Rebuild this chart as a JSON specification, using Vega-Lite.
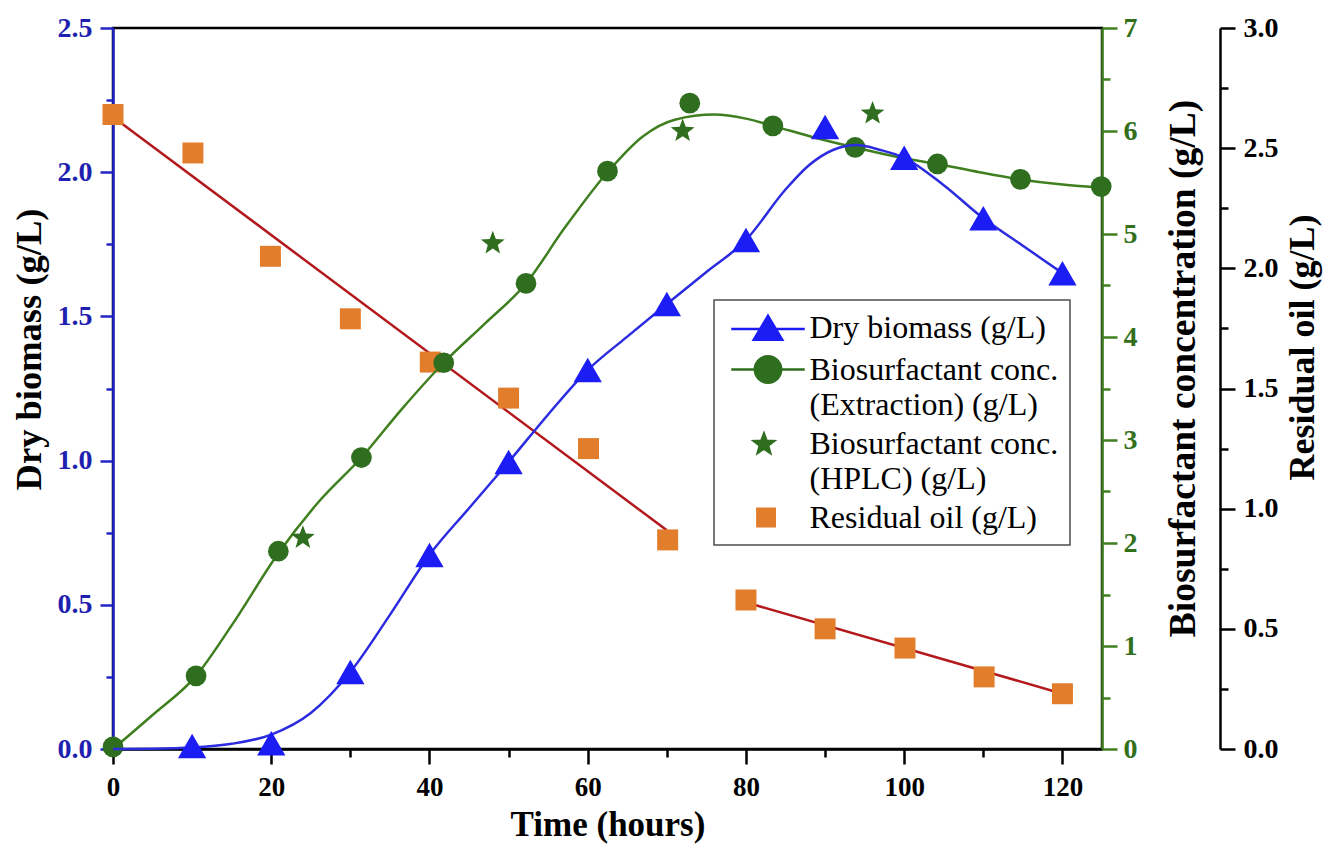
{
  "$schema": "https://vega.github.io/schema/vega-lite/v6.json",
  "width": 989,
  "height": 721,
  "autosize": {"type": "none"},
  "padding": {"left": 113, "top": 28, "right": 226, "bottom": 112},
  "background": "white",
  "config": {"view": {"stroke": "black", "strokeWidth": 2.5}, "font": "Liberation Serif"},
  "datasets": {
    "biomass": [
      {"t": 10, "v": 0.01, "series": "Dry biomass (g/L)"},
      {"t": 20, "v": 0.02, "series": "Dry biomass (g/L)"},
      {"t": 30, "v": 0.267, "series": "Dry biomass (g/L)"},
      {"t": 40, "v": 0.673, "series": "Dry biomass (g/L)"},
      {"t": 50, "v": 0.995, "series": "Dry biomass (g/L)"},
      {"t": 60, "v": 1.314, "series": "Dry biomass (g/L)"},
      {"t": 70, "v": 1.543, "series": "Dry biomass (g/L)"},
      {"t": 80, "v": 1.765, "series": "Dry biomass (g/L)"},
      {"t": 90, "v": 2.157, "series": "Dry biomass (g/L)"},
      {"t": 100, "v": 2.05, "series": "Dry biomass (g/L)"},
      {"t": 110, "v": 1.84, "series": "Dry biomass (g/L)"},
      {"t": 120, "v": 1.65, "series": "Dry biomass (g/L)"}
    ],
    "biomassFit": [
      {"t": 0, "v": 0.0}, {"t": 5, "v": 0.001}, {"t": 10, "v": 0.005}, {"t": 15, "v": 0.018},
      {"t": 20, "v": 0.05}, {"t": 25, "v": 0.125}, {"t": 30, "v": 0.267}, {"t": 35, "v": 0.465},
      {"t": 40, "v": 0.673}, {"t": 45, "v": 0.835}, {"t": 50, "v": 0.995}, {"t": 55, "v": 1.16},
      {"t": 60, "v": 1.314}, {"t": 65, "v": 1.43}, {"t": 70, "v": 1.543}, {"t": 75, "v": 1.654},
      {"t": 80, "v": 1.765}, {"t": 85, "v": 1.94}, {"t": 88, "v": 2.025}, {"t": 91, "v": 2.077},
      {"t": 94, "v": 2.094}, {"t": 97, "v": 2.077}, {"t": 100, "v": 2.05}, {"t": 105, "v": 1.955},
      {"t": 110, "v": 1.84}, {"t": 115, "v": 1.745}, {"t": 120, "v": 1.65}
    ],
    "extraction": [
      {"t": 0, "v": 0.02, "series": "Biosurfactant conc.|(Extraction) (g/L)"},
      {"t": 10.5, "v": 0.71, "series": "Biosurfactant conc.|(Extraction) (g/L)"},
      {"t": 20.9, "v": 1.92, "series": "Biosurfactant conc.|(Extraction) (g/L)"},
      {"t": 31.4, "v": 2.83, "series": "Biosurfactant conc.|(Extraction) (g/L)"},
      {"t": 41.8, "v": 3.75, "series": "Biosurfactant conc.|(Extraction) (g/L)"},
      {"t": 52.2, "v": 4.52, "series": "Biosurfactant conc.|(Extraction) (g/L)"},
      {"t": 62.5, "v": 5.61, "series": "Biosurfactant conc.|(Extraction) (g/L)"},
      {"t": 72.9, "v": 6.27, "series": "Biosurfactant conc.|(Extraction) (g/L)"},
      {"t": 83.4, "v": 6.05, "series": "Biosurfactant conc.|(Extraction) (g/L)"},
      {"t": 93.8, "v": 5.84, "series": "Biosurfactant conc.|(Extraction) (g/L)"},
      {"t": 104.2, "v": 5.68, "series": "Biosurfactant conc.|(Extraction) (g/L)"},
      {"t": 114.7, "v": 5.53, "series": "Biosurfactant conc.|(Extraction) (g/L)"},
      {"t": 124.9, "v": 5.46, "series": "Biosurfactant conc.|(Extraction) (g/L)"}
    ],
    "hplc": [
      {"t": 24, "v": 2.05, "series": "Biosurfactant conc.|(HPLC) (g/L)"},
      {"t": 48, "v": 4.91, "series": "Biosurfactant conc.|(HPLC) (g/L)"},
      {"t": 72, "v": 6.0, "series": "Biosurfactant conc.|(HPLC) (g/L)"},
      {"t": 96, "v": 6.17, "series": "Biosurfactant conc.|(HPLC) (g/L)"}
    ],
    "biosurfFit": [
      {"t": 0, "v": 0.0}, {"t": 5, "v": 0.33}, {"t": 10.5, "v": 0.71}, {"t": 15, "v": 1.2},
      {"t": 20.9, "v": 1.9}, {"t": 26, "v": 2.4}, {"t": 31.4, "v": 2.83}, {"t": 36.5, "v": 3.3},
      {"t": 41.8, "v": 3.75}, {"t": 47, "v": 4.13}, {"t": 52.2, "v": 4.52}, {"t": 57, "v": 5.05},
      {"t": 62.5, "v": 5.6}, {"t": 67, "v": 5.95}, {"t": 71, "v": 6.11}, {"t": 76, "v": 6.16},
      {"t": 80, "v": 6.12}, {"t": 83.4, "v": 6.05}, {"t": 88.5, "v": 5.94}, {"t": 93.8, "v": 5.84},
      {"t": 99, "v": 5.75}, {"t": 104.2, "v": 5.68}, {"t": 109.5, "v": 5.6}, {"t": 114.7, "v": 5.53},
      {"t": 120, "v": 5.48}, {"t": 125, "v": 5.45}
    ],
    "oil": [
      {"t": 0, "v": 2.64, "series": "Residual oil (g/L)"},
      {"t": 10.1, "v": 2.48, "series": "Residual oil (g/L)"},
      {"t": 19.9, "v": 2.05, "series": "Residual oil (g/L)"},
      {"t": 30, "v": 1.79, "series": "Residual oil (g/L)"},
      {"t": 40.1, "v": 1.61, "series": "Residual oil (g/L)"},
      {"t": 50, "v": 1.46, "series": "Residual oil (g/L)"},
      {"t": 60.1, "v": 1.25, "series": "Residual oil (g/L)"},
      {"t": 70.1, "v": 0.87, "series": "Residual oil (g/L)"},
      {"t": 80, "v": 0.62, "series": "Residual oil (g/L)"},
      {"t": 90, "v": 0.5, "series": "Residual oil (g/L)"},
      {"t": 100.1, "v": 0.42, "series": "Residual oil (g/L)"},
      {"t": 110.1, "v": 0.3, "series": "Residual oil (g/L)"},
      {"t": 120, "v": 0.23, "series": "Residual oil (g/L)"}
    ],
    "oilFit": [
      {"t": 0, "v": 2.63, "seg": "a"}, {"t": 70, "v": 0.91, "seg": "a"},
      {"t": 80, "v": 0.61, "seg": "b"}, {"t": 120, "v": 0.23, "seg": "b"}
    ]
  },
  "layer": [
    {
      "layer": [
        {
          "data": {"name": "oilFit"},
          "mark": {"type": "line", "color": "#b3191c", "strokeWidth": 2.5},
          "encoding": {
            "x": {"field": "t", "type": "quantitative", "scale": {"domain": [0, 125], "nice": false, "zero": false}, "axis": null},
            "y": {"field": "v", "type": "quantitative", "scale": {"domain": [0, 3], "nice": false},
              "axis": {"orient": "right", "offset": 118, "values": [0.25, 0.75, 1.25, 1.75, 2.25, 2.75], "tickSize": 8, "tickWidth": 2.5, "tickColor": "black", "labels": false, "domain": false, "grid": false, "title": null}},
            "detail": {"field": "seg", "type": "nominal"}
          }
        },
        {
          "data": {"name": "oil"},
          "mark": {"type": "point", "shape": "square", "filled": true, "size": 440, "opacity": 1},
          "encoding": {
            "x": {"field": "t", "type": "quantitative", "scale": {"domain": [0, 125], "nice": false, "zero": false}, "axis": null},
            "y": {"field": "v", "type": "quantitative", "scale": {"domain": [0, 3], "nice": false},
              "axis": {"orient": "right", "offset": 118, "values": [0, 0.5, 1, 1.5, 2, 2.5, 3], "format": ".1f", "tickSize": 15, "tickWidth": 2.5, "tickColor": "black", "domainColor": "black", "domainWidth": 2.5, "labelFont": "Liberation Serif", "labelFontWeight": "bold", "labelFontSize": 28, "labelColor": "black", "labelPadding": 8, "grid": false,
                "title": "Residual oil (g/L)", "titleFont": "Liberation Serif", "titleFontWeight": "bold", "titleFontSize": 36, "titleColor": "black", "titleAngle": 270, "titleX": 82, "titleY": 319, "titleBaseline": "middle", "titleAlign": "center"}},
            "color": {"field": "series", "type": "nominal",
              "scale": {"domain": ["Dry biomass (g/L)", "Biosurfactant conc.|(Extraction) (g/L)", "Biosurfactant conc.|(HPLC) (g/L)", "Residual oil (g/L)"], "range": ["#1c1cf5", "#2e6e1e", "#2e6e1e", "#e27d2c"]},
              "legend": {
                "title": null, "orient": "none", "legendX": 601, "legendY": 272,
                "padding": 11, "strokeColor": "#4d4d4d", "fillColor": "white",
                "labelFont": "Liberation Serif", "labelFontSize": 32, "labelColor": "black", "labelLimit": 600,
                "labelOffset": 25, "symbolOffset": 26.5, "symbolSize": 900, "symbolStrokeWidth": 2.5, "rowPadding": 6,
                "labelExpr": "split(datum.label, '|')",
                "encoding": {
                  "legend": {"strokeWidth": {"value": 1.5}},
                  "symbols": {
                    "shape": {"value": {"expr": "datum.value === 'Dry biomass (g/L)' ? 'M-2.45,0.1H2.45M0,-0.78L0.95,0.82L-0.95,0.82Z' : datum.value === 'Residual oil (g/L)' ? 'M-0.71,-0.58H0.45V0.58H-0.71Z' : indexof(datum.value, 'HPLC') >= 0 ? 'M-0.27,-0.65L-0.097,-0.188L0.396,-0.166L0.009,0.141L0.142,0.616L-0.27,0.344L-0.682,0.616L-0.549,0.141L-0.936,-0.166L-0.443,-0.188Z' : 'M-2.45,0H2.45M0.88,0A0.88,0.88,0,1,1,-0.88,0A0.88,0.88,0,1,1,0.88,0Z'"}},
                    "fill": {"value": {"expr": "scale('color', datum.value)"}},
                    "stroke": {"value": {"expr": "scale('color', datum.value)"}},
                    "strokeWidth": {"value": 2.5},
                    "opacity": {"value": 1}
                  },
                  "labels": {"lineHeight": {"value": 35}}
                }
              }
            }
          }
        }
      ],
      "resolve": {"axis": {"y": "independent"}}
    },
    {
      "layer": [
        {
          "data": {"name": "biosurfFit"},
          "mark": {"type": "line", "color": "#3f7f1f", "strokeWidth": 2.5, "interpolate": "monotone"},
          "encoding": {
            "x": {"field": "t", "type": "quantitative", "scale": {"domain": [0, 125], "nice": false, "zero": false}, "axis": null},
            "y": {"field": "v", "type": "quantitative", "scale": {"domain": [0, 7], "nice": false},
              "axis": {"orient": "right", "values": [0.5, 1.5, 2.5, 3.5, 4.5, 5.5, 6.5], "tickSize": 8, "tickWidth": 2.5, "tickColor": "#3f7f1f", "labels": false, "domain": false, "grid": false, "title": null}}
          }
        },
        {
          "data": {"name": "extraction"},
          "mark": {"type": "point", "shape": "circle", "filled": true, "size": 430, "opacity": 1},
          "encoding": {
            "x": {"field": "t", "type": "quantitative", "scale": {"domain": [0, 125], "nice": false, "zero": false}, "axis": null},
            "y": {"field": "v", "type": "quantitative", "scale": {"domain": [0, 7], "nice": false},
              "axis": {"orient": "right", "values": [0, 1, 2, 3, 4, 5, 6, 7], "format": "d", "tickSize": 15, "tickWidth": 2.5, "tickColor": "#3f7f1f", "domainColor": "#3f7f1f", "domainWidth": 2.5, "labelFont": "Liberation Serif", "labelFontWeight": "bold", "labelFontSize": 28, "labelColor": "#33701c", "labelPadding": 6, "grid": false,
                "title": "Biosurfactant concentration (g/L)", "titleFont": "Liberation Serif", "titleFontWeight": "bold", "titleFontSize": 37.5, "titleColor": "black", "titleAngle": 270, "titleX": 81, "titleY": 340, "titleBaseline": "middle", "titleAlign": "center"}},
            "color": {"field": "series", "type": "nominal"}
          }
        },
        {
          "data": {"name": "hplc"},
          "mark": {"type": "point", "shape": "M0,-1L0.247,-0.34L0.951,-0.309L0.399,0.13L0.588,0.809L0,0.42L-0.588,0.809L-0.399,0.13L-0.951,-0.309L-0.247,-0.34Z", "filled": true, "size": 625, "opacity": 1},
          "encoding": {
            "x": {"field": "t", "type": "quantitative", "scale": {"domain": [0, 125], "nice": false, "zero": false}, "axis": null},
            "y": {"field": "v", "type": "quantitative", "scale": {"domain": [0, 7], "nice": false}, "axis": null},
            "color": {"field": "series", "type": "nominal"}
          }
        }
      ],
      "resolve": {"axis": {"y": "independent"}}
    },
    {
      "layer": [
        {
          "data": {"name": "biomassFit"},
          "mark": {"type": "line", "color": "#2b2be0", "strokeWidth": 2.5, "interpolate": "monotone"},
          "encoding": {
            "x": {"field": "t", "type": "quantitative", "scale": {"domain": [0, 125], "nice": false, "zero": false},
              "axis": {"orient": "bottom", "values": [10, 30, 50, 70, 90, 110], "tickSize": 8, "tickWidth": 2.5, "tickColor": "black", "labels": false, "domain": false, "grid": false, "title": null}},
            "y": {"field": "v", "type": "quantitative", "scale": {"domain": [0, 2.5], "nice": false},
              "axis": {"orient": "left", "values": [0.25, 0.75, 1.25, 1.75, 2.25], "tickSize": 7, "tickWidth": 2.5, "tickColor": "#2323c8", "labels": false, "domain": false, "grid": false, "title": null}}
          }
        },
        {
          "data": {"name": "biomass"},
          "mark": {"type": "point", "shape": "triangle-up", "filled": true, "size": 800, "opacity": 1},
          "encoding": {
            "x": {"field": "t", "type": "quantitative", "scale": {"domain": [0, 125], "nice": false, "zero": false},
              "axis": {"orient": "bottom", "values": [0, 20, 40, 60, 80, 100, 120], "tickSize": 15, "tickWidth": 2.5, "tickColor": "black", "domainColor": "black", "domainWidth": 2.5, "labelFont": "Liberation Serif", "labelFontWeight": "bold", "labelFontSize": 27, "labelColor": "black", "labelPadding": 10, "labelFlush": false, "grid": false,
                "title": "Time (hours)", "titleFont": "Liberation Serif", "titleFontWeight": "bold", "titleFontSize": 35, "titleColor": "black", "titleY": 75, "titleBaseline": "middle"}},
            "y": {"field": "v", "type": "quantitative", "scale": {"domain": [0, 2.5], "nice": false},
              "axis": {"orient": "left", "values": [0, 0.5, 1, 1.5, 2, 2.5], "format": ".1f", "tickSize": 13, "tickWidth": 2.5, "tickColor": "#2323c8", "domainColor": "#2323c8", "domainWidth": 2.5, "labelFont": "Liberation Serif", "labelFontWeight": "bold", "labelFontSize": 28, "labelColor": "#1f1fb0", "labelPadding": 8, "grid": false,
                "title": "Dry biomass (g/L)", "titleFont": "Liberation Serif", "titleFontWeight": "bold", "titleFontSize": 36.5, "titleColor": "black", "titleAngle": 270, "titleX": -84, "titleY": 321, "titleBaseline": "middle", "titleAlign": "center"}},
            "color": {"field": "series", "type": "nominal"}
          }
        }
      ],
      "resolve": {"axis": {"x": "independent", "y": "independent"}}
    }
  ],
  "resolve": {"scale": {"y": "independent"}, "axis": {"x": "independent", "y": "independent"}}
}
